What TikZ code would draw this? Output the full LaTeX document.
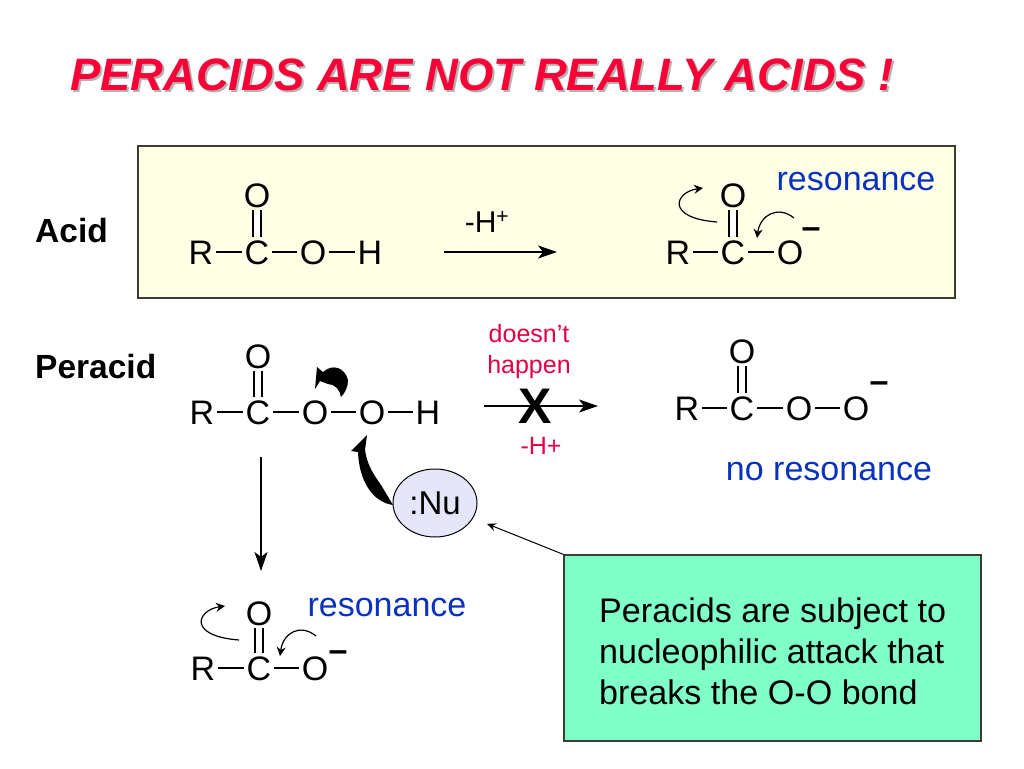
\documentclass[tikz,border=0pt]{standalone}
\usepackage{fontspec}
\setmainfont{Liberation Sans}
\usetikzlibrary{arrows.meta,shapes.geometric}
\definecolor{titlered}{RGB}{250,0,55}
\definecolor{labelred}{RGB}{225,0,70}
\definecolor{resblue}{RGB}{10,50,190}
\definecolor{acidfill}{RGB}{255,255,230}
\definecolor{notefill}{RGB}{128,255,200}
\definecolor{nufill}{RGB}{230,230,250}
\definecolor{edgegray}{RGB}{60,60,50}
\newcommand{\fsize}[1]{\fontsize{#1}{#1}\selectfont}
\begin{document}
\begin{tikzpicture}[x=1pt,y=-1pt,
		bond/.style={line width=2.7pt},
		dbond/.style={double,double distance=5.6pt,line width=2.6pt},
		curly/.style={line width=1.2pt,-{Stealth[length=9pt,width=9pt,inset=3pt]}},
		rxn/.style={line width=2pt,-{Stealth[length=19pt,width=13pt,inset=5pt]}}]
		\tikzstyle{atom}= [font=\fsize{34},inner sep=3pt,text height=24pt,text depth=0pt]
		\tikzstyle{minus_sign}= [font=\fsize{34},inner sep=0pt]
		\tikzstyle{blue_label}= [font=\fsize{34},text=resblue,inner sep=0pt]
		\tikzstyle{red_label}= [font=\fsize{25},text=labelred,inner sep=0pt]
		\tikzstyle{side_label}= [font=\fsize{33.5}\bfseries,anchor=west,inner sep=0pt]
		\useasboundingbox (0,0) rectangle (1024,768);
		\node [font=\fsize{45.4}\bfseries\itshape,text=black!30,inner sep=0pt] (shadow) at (484,77) {PERACIDS ARE NOT REALLY ACIDS !};
		\node [font=\fsize{45.4}\bfseries\itshape,text=titlered,inner sep=0pt] (title) at (482,75) {PERACIDS ARE NOT REALLY ACIDS !};
		\node [draw=edgegray,line width=1.5pt,fill=acidfill,minimum width=817pt,minimum height=152pt,inner sep=0pt] (acidbox) at (546.5,222) {};
		\node [side_label] (acid) at (35,231) {Acid};
		\node [side_label] (peracid) at (35,367) {Peracid};

		\node [atom] (r1) at (201,252) {R};
		\node [atom] (c1) at (257,252) {C};
		\node [atom] (o1) at (257,195) {O};
		\node [atom] (o2) at (313,252) {O};
		\node [atom] (h1) at (370,252) {H};
		\draw [bond] (r1) -- (c1);
		\draw [bond] (c1) -- (o2);
		\draw [bond] (o2) -- (h1);
		\draw [dbond] (c1) -- (o1);
		\node [font=\fsize{30},inner sep=0pt] (lossa) at (487,222) {-H\textsuperscript{+}};
		\coordinate (a1) at (444,252);
		\coordinate (a2) at (557,252);
		\draw [rxn] (a1) -- (a2);

		\node [atom] (r2) at (678,252) {R};
		\node [atom] (c2) at (733,252) {C};
		\node [atom] (o3) at (733,195) {O};
		\node [atom] (o4) at (790,252) {O};
		\node [minus_sign] (m2) at (811,233) {\textbf{–}};
		\draw [bond] (r2) -- (c2);
		\draw [bond] (c2) -- (o4);
		\draw [dbond] (c2) -- (o3);
		\coordinate (b1) at (717,222);
		\coordinate (b2) at (703,188);
		\coordinate (b3) at (794,218);
		\coordinate (b4) at (757,238);
		\draw [curly] (b1) .. controls (665,218) and (675,192) .. (b2);
		\draw [curly] (b3) .. controls (778,205) and (760,215) .. (b4);
		\node [blue_label] (res1) at (856,182) {resonance};

		\node [atom] (r3) at (202,412) {R};
		\node [atom] (c3) at (258,412) {C};
		\node [atom] (o5) at (258,356) {O};
		\node [atom] (o6) at (315,412) {O};
		\node [atom] (o7) at (372,412) {O};
		\node [atom] (h2) at (428,412) {H};
		\draw [bond] (r3) -- (c3);
		\draw [bond] (c3) -- (o6);
		\draw [bond] (o6) -- (o7);
		\draw [bond] (o7) -- (h2);
		\draw [dbond] (c3) -- (o5);
		\fill (315,389) -- (317,367) -- (323,372) .. controls (333,363) and (345,368) .. (348,380) .. controls (348,387) and (345,393) .. (341,397) .. controls (340,390) and (335,384) .. (328,384) -- (320,381) -- cycle;
		\fill (367,435) -- (351,451) -- (358,452) .. controls (359,480) and (372,502) .. (393,505) -- (381,485) .. controls (374,475) and (367,465) .. (365,450) -- cycle;
		\node [draw,line width=1pt,fill=nufill,ellipse,minimum width=84pt,minimum height=68pt,inner sep=0pt,font=\fsize{33}] (nu) at (435,503) {:Nu\hspace{8pt}};

		\node [red_label,align=center] (nohap) at (529,352) {doesn’t\\[6pt]happen};
		\coordinate (d1) at (484,406);
		\coordinate (d2) at (598,406);
		\draw [rxn] (d1) -- (d2);
		\node [font=\fsize{50}\bfseries,inner sep=0pt] (cross) at (535,406) {X};
		\node [red_label] (lossb) at (541,446) {-H+};

		\node [atom] (r4) at (687,408) {R};
		\node [atom] (c4) at (742,408) {C};
		\node [atom] (o8) at (742,351) {O};
		\node [atom] (o9) at (799,408) {O};
		\node [atom] (o10) at (856,408) {O};
		\node [minus_sign] (m4) at (879,387) {\textbf{–}};
		\draw [bond] (r4) -- (c4);
		\draw [bond] (c4) -- (o9);
		\draw [bond] (o9) -- (o10);
		\draw [dbond] (c4) -- (o8);
		\node [blue_label] (nores) at (829,472) {no resonance};

		\coordinate (e1) at (261,457);
		\coordinate (e2) at (261,571);
		\draw [rxn] (e1) -- (e2);

		\node [atom] (r5) at (203,668) {R};
		\node [atom] (c5) at (259,668) {C};
		\node [atom] (o11) at (259,613) {O};
		\node [atom] (o12) at (315,668) {O};
		\node [minus_sign] (m5) at (338,656) {\textbf{–}};
		\draw [bond] (r5) -- (c5);
		\draw [bond] (c5) -- (o12);
		\draw [dbond] (c5) -- (o11);
		\coordinate (f1) at (239,640);
		\coordinate (f2) at (225,606);
		\coordinate (f3) at (316,636);
		\coordinate (f4) at (280,656);
		\draw [curly] (f1) .. controls (187,636) and (197,610) .. (f2);
		\draw [curly] (f3) .. controls (300,623) and (283,633) .. (f4);
		\node [blue_label] (res2) at (387,608) {resonance};

		\node [draw=edgegray,line width=1.2pt,fill=notefill,minimum width=417pt,minimum height=186pt,inner sep=0pt] (note) at (772.5,648) {};
		\node [anchor=west,inner sep=0pt,align=left,font=\fsize{34.1}] (notetext) at (599,651) {Peracids are subject to\\[7pt]nucleophilic attack that\\[7pt]breaks the O-O bond};
		\draw [line width=1pt,shorten >=15pt,-{Stealth[length=9pt,width=8pt,inset=3pt]}] (note.north west) -- (nu);
\end{tikzpicture}
\end{document}
